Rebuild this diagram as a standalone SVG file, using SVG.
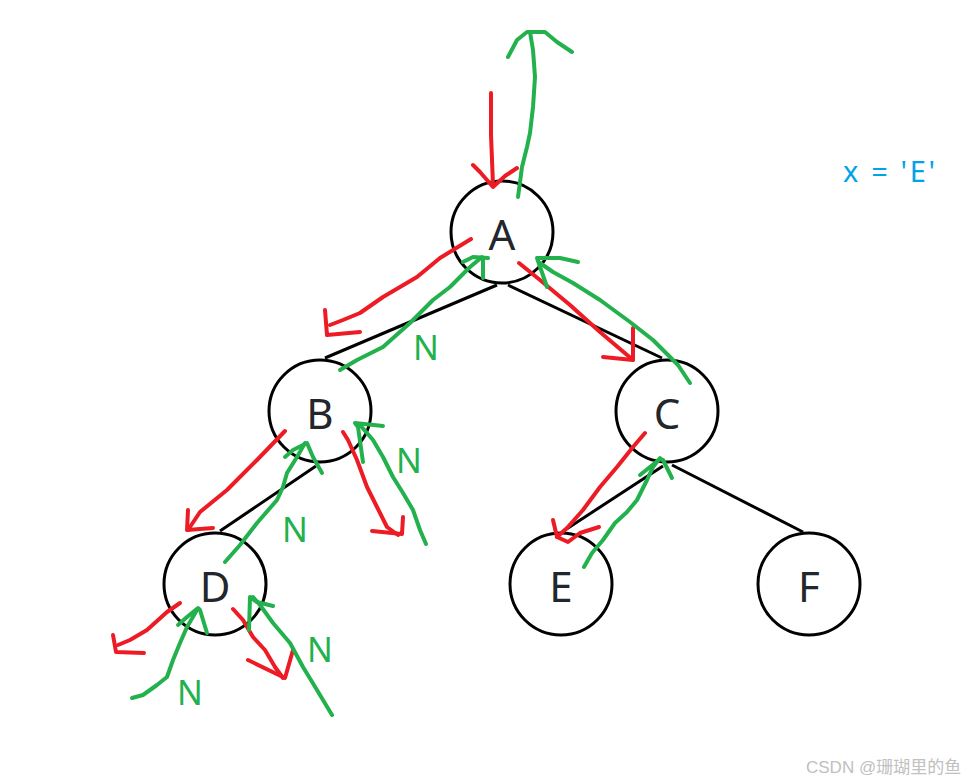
<svg xmlns="http://www.w3.org/2000/svg" width="974" height="783" viewBox="0 0 974 783">
<style>
.node circle{fill:#fff;stroke:#000;stroke-width:3}
.node text{font-family:"Noto Sans","Open Sans",sans-serif;font-size:42px;fill:#23262b;text-anchor:middle}
.edge{stroke:#000;stroke-width:3;fill:none}
.red{stroke:#ed1c24;stroke-width:4;fill:none;stroke-linecap:round;stroke-linejoin:round}
.green{stroke:#22b14c;stroke-width:4;fill:none;stroke-linecap:round;stroke-linejoin:round}
.n{font-family:"Noto Sans","Open Sans",sans-serif;font-size:34px;fill:#22b14c}
</style>
<rect width="974" height="783" fill="#fff"/>
<g id="connectors">
<line class="edge" x1="497" y1="285" x2="325" y2="358"/>
<line class="edge" x1="508" y1="285" x2="662" y2="358"/>
<line class="edge" x1="316" y1="466" x2="220" y2="531"/>
<line class="edge" x1="663" y1="466" x2="565" y2="530"/>
<line class="edge" x1="672" y1="465" x2="803" y2="532"/>
</g>
<g id="node-A" class="node"><circle cx="502" cy="232" r="51"/><text x="502" y="250">A</text></g>
<g id="node-B" class="node"><circle cx="320" cy="411" r="51"/><text x="320" y="429">B</text></g>
<g id="node-C" class="node"><circle cx="667" cy="411" r="51"/><text x="667" y="429">C</text></g>
<g id="node-D" class="node"><circle cx="215" cy="584" r="51"/><text x="215" y="602">D</text></g>
<g id="node-E" class="node"><circle cx="561" cy="584" r="51"/><text x="561" y="602">E</text></g>
<g id="node-F" class="node"><circle cx="809" cy="584" r="51"/><text x="809" y="602">F</text></g>
<g id="red-arrows">
<polyline class="red" points="491,93 491,135 493,185"/>
<polyline class="red" points="473,165 480,172 493,187 505,176 517,168"/>
<polyline class="red" points="471,239 440,258 417,277 383,297 360,313 343,320 330,325"/>
<polyline class="red" points="325,310 327,335 360,332"/>
<polyline class="red" points="519,263 540,280 570,305 600,332 633,360"/>
<polyline class="red" points="633,328 633,360 603,357"/>
<polyline class="red" points="285,431 257,460 227,490 200,512 188,530"/>
<polyline class="red" points="188,510 187,530 213,528"/>
<polyline class="red" points="343,432 348,440 357,460 367,487 377,507 387,527 398,535"/>
<polyline class="red" points="403,517 402,534 372,531"/>
<polyline class="red" points="180,603 167,612 147,630 130,640 118,645"/>
<polyline class="red" points="113,635 116,652 144,653"/>
<polyline class="red" points="233,609 243,620 253,637 265,650 275,667 283,678"/>
<polyline class="red" points="293,650 285,678 248,660"/>
<polyline class="red" points="645,433 633,447 617,467 600,487 583,510 567,528 557,537"/>
<polyline class="red" points="553,520 557,537 568,542 580,533 599,527"/>
</g>
<g id="green-arrows">
<polyline class="green" points="518,197 522,167 527,147 530,133 533,107 535,77 533,50 530,32"/>
<polyline class="green" points="508,57 517,40 527,32 545,32 557,42 572,52"/>
<polyline class="green" points="340,370 357,360 383,347 410,323 433,300 450,287 470,267 482,257"/>
<polyline class="green" points="463,262 473,257 488,258"/>
<polyline class="green" points="483,260 483,278"/>
<polyline class="green" points="690,383 678,365 653,340 630,322 600,300 573,283 553,272 540,263"/>
<polyline class="green" points="547,287 537,258 560,258 578,262"/>
<polyline class="green" points="225,562 240,545 257,523 277,500 283,487 287,473 297,457 305,443"/>
<polyline class="green" points="285,457 293,450 307,443 313,457 322,473"/>
<polyline class="green" points="426,544 420,530 413,510 403,493 393,477 383,457 373,440 360,425"/>
<polyline class="green" points="383,426 355,423 358,427 363,462"/>
<polyline class="green" points="132,698 143,695 157,685 167,677 173,660 180,643 187,627 197,610"/>
<polyline class="green" points="178,625 187,617 198,608 200,610 207,633"/>
<polyline class="green" points="332,715 317,690 303,667 290,643 273,623 260,605 253,597"/>
<polyline class="green" points="249,630 250,597 257,602 273,606"/>
<polyline class="green" points="584,567 592,553 603,540 615,523 627,512 637,500 647,480 653,467 660,458"/>
<polyline class="green" points="640,475 650,467 660,459 663,460 667,468 672,478"/>
</g>
<g id="labels">
<text class="n" x="413" y="360">N</text>
<text class="n" x="396" y="473">N</text>
<text class="n" x="282" y="542">N</text>
<text class="n" x="307" y="662">N</text>
<text class="n" x="177" y="705">N</text>
<text x="843" y="182" font-family="Noto Sans, Open Sans, sans-serif" font-size="29" fill="#00a2e8" textLength="92" lengthAdjust="spacing">x = 'E'</text>
<text x="806" y="773" font-family="Liberation Sans, Noto Sans CJK SC, sans-serif" font-size="17" fill="#c0c0c0">CSDN @珊瑚里的鱼</text>
</g>
</svg>
